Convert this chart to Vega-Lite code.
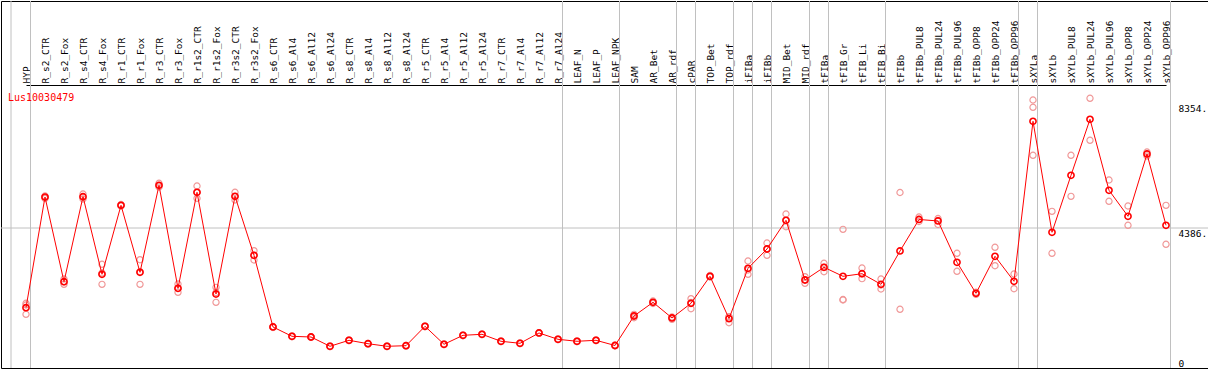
{
  "$schema": "https://vega.github.io/schema/vega-lite/v6.json",
  "width": 1207,
  "height": 367,
  "autosize": {"type": "none"},
  "padding": {"left": 1, "top": 1, "right": 0, "bottom": 1},
  "background": "white",
  "config": {"view": {"stroke": "black", "strokeWidth": 1}},
  "title": {"text": "Lus10030479", "anchor": "start", "frame": "group", "orient": "top", "offset": -110, "dx": 7, "color": "#ff0000", "font": "DejaVu Sans Mono", "fontSize": 10, "fontWeight": "normal", "baseline": "alphabetic"},
  "datasets": {
    "means": [
      {"sample": "HYP", "value": 1889}, {"sample": "R_s2_CTR", "value": 5357}, {"sample": "R_s2_Fox", "value": 2704},
      {"sample": "R_s4_CTR", "value": 5367}, {"sample": "R_s4_Fox", "value": 2936}, {"sample": "R_r1_CTR", "value": 5097},
      {"sample": "R_r1_Fox", "value": 2998}, {"sample": "R_r3_CTR", "value": 5724}, {"sample": "R_r3_Fox", "value": 2497},
      {"sample": "R_r1s2_CTR", "value": 5505}, {"sample": "R_r1s2_Fox", "value": 2318}, {"sample": "R_r3s2_CTR", "value": 5379},
      {"sample": "R_r3s2_Fox", "value": 3531}, {"sample": "R_s6_CTR", "value": 1285}, {"sample": "R_s6_Al4", "value": 993},
      {"sample": "R_s6_Al12", "value": 971}, {"sample": "R_s6_Al24", "value": 680}, {"sample": "R_s8_CTR", "value": 868},
      {"sample": "R_s8_Al4", "value": 761}, {"sample": "R_s8_Al12", "value": 680}, {"sample": "R_s8_Al24", "value": 699},
      {"sample": "R_r5_CTR", "value": 1306}, {"sample": "R_r5_Al4", "value": 743}, {"sample": "R_r5_Al12", "value": 1024},
      {"sample": "R_r5_Al24", "value": 1056}, {"sample": "R_r7_CTR", "value": 837}, {"sample": "R_r7_Al4", "value": 774},
      {"sample": "R_r7_Al12", "value": 1097}, {"sample": "R_r7_Al24", "value": 899}, {"sample": "LEAF_N", "value": 837},
      {"sample": "LEAF_P", "value": 868}, {"sample": "LEAF_NPK", "value": 705}, {"sample": "SAM", "value": 1629},
      {"sample": "AR_Bet", "value": 2058}, {"sample": "AR_rdf", "value": 1567}, {"sample": "cPAR", "value": 2027},
      {"sample": "TOP_Bet", "value": 2873}, {"sample": "TOP_rdf", "value": 1545}, {"sample": "iFIBa", "value": 3124},
      {"sample": "iFIBb", "value": 3728}, {"sample": "MID_Bet", "value": 4627}, {"sample": "MID_rdf", "value": 2757},
      {"sample": "tFIBa", "value": 3155}, {"sample": "tFIB_Gr", "value": 2873}, {"sample": "tFIB_Li", "value": 2954},
      {"sample": "tFIB_Bi", "value": 2622}, {"sample": "tFIBb", "value": 3666}, {"sample": "tFIBb_PUL8", "value": 4653},
      {"sample": "tFIBb_PUL24", "value": 4606}, {"sample": "tFIBb_PUL96", "value": 3312}, {"sample": "tFIBb_OPP8", "value": 2340},
      {"sample": "tFIBb_OPP24", "value": 3500}, {"sample": "tFIBb_OPP96", "value": 2716}, {"sample": "sXYLa", "value": 7729},
      {"sample": "sXYLb", "value": 4252}, {"sample": "sXYLb_PUL8", "value": 6037}, {"sample": "sXYLb_PUL24", "value": 7792},
      {"sample": "sXYLb_PUL96", "value": 5567}, {"sample": "sXYLb_OPP8", "value": 4753}, {"sample": "sXYLb_OPP24", "value": 6705},
      {"sample": "sXYLb_OPP96", "value": 4471}
    ],
    "reps": [
      {"sample": "HYP", "value": 2027}, {"sample": "HYP", "value": 1974}, {"sample": "HYP", "value": 1682},
      {"sample": "R_s2_CTR", "value": 5389}, {"sample": "R_s2_CTR", "value": 5357}, {"sample": "R_s2_CTR", "value": 5310},
      {"sample": "R_s2_Fox", "value": 2788}, {"sample": "R_s2_Fox", "value": 2694}, {"sample": "R_s2_Fox", "value": 2622},
      {"sample": "R_s4_CTR", "value": 5451}, {"sample": "R_s4_CTR", "value": 5357}, {"sample": "R_s4_CTR", "value": 5295},
      {"sample": "R_s4_Fox", "value": 3249}, {"sample": "R_s4_Fox", "value": 2976}, {"sample": "R_s4_Fox", "value": 2622},
      {"sample": "R_r1_CTR", "value": 5122}, {"sample": "R_r1_CTR", "value": 5097}, {"sample": "R_r1_CTR", "value": 5075},
      {"sample": "R_r1_Fox", "value": 3393}, {"sample": "R_r1_Fox", "value": 3017}, {"sample": "R_r1_Fox", "value": 2622},
      {"sample": "R_r3_CTR", "value": 5787}, {"sample": "R_r3_CTR", "value": 5718}, {"sample": "R_r3_CTR", "value": 5671},
      {"sample": "R_r3_Fox", "value": 2632}, {"sample": "R_r3_Fox", "value": 2491}, {"sample": "R_r3_Fox", "value": 2372},
      {"sample": "R_r1s2_CTR", "value": 5702}, {"sample": "R_r1s2_CTR", "value": 5498}, {"sample": "R_r1s2_CTR", "value": 5317},
      {"sample": "R_r1s2_Fox", "value": 2528}, {"sample": "R_r1s2_Fox", "value": 2365}, {"sample": "R_r1s2_Fox", "value": 2058},
      {"sample": "R_r3s2_CTR", "value": 5505}, {"sample": "R_r3s2_CTR", "value": 5373}, {"sample": "R_r3s2_CTR", "value": 5263},
      {"sample": "R_r3s2_Fox", "value": 3675}, {"sample": "R_r3s2_Fox", "value": 3531}, {"sample": "R_r3s2_Fox", "value": 3384},
      {"sample": "R_s6_CTR", "value": 1300}, {"sample": "R_s6_CTR", "value": 1285}, {"sample": "R_s6_CTR", "value": 1270},
      {"sample": "R_s6_Al4", "value": 1005}, {"sample": "R_s6_Al4", "value": 993}, {"sample": "R_s6_Al4", "value": 980},
      {"sample": "R_s6_Al12", "value": 985}, {"sample": "R_s6_Al12", "value": 971}, {"sample": "R_s6_Al12", "value": 958},
      {"sample": "R_s6_Al24", "value": 690}, {"sample": "R_s6_Al24", "value": 680}, {"sample": "R_s6_Al24", "value": 670},
      {"sample": "R_s8_CTR", "value": 880}, {"sample": "R_s8_CTR", "value": 868}, {"sample": "R_s8_CTR", "value": 856},
      {"sample": "R_s8_Al4", "value": 772}, {"sample": "R_s8_Al4", "value": 761}, {"sample": "R_s8_Al4", "value": 750},
      {"sample": "R_s8_Al12", "value": 690}, {"sample": "R_s8_Al12", "value": 680}, {"sample": "R_s8_Al12", "value": 670},
      {"sample": "R_s8_Al24", "value": 710}, {"sample": "R_s8_Al24", "value": 699}, {"sample": "R_s8_Al24", "value": 688},
      {"sample": "R_r5_CTR", "value": 1320}, {"sample": "R_r5_CTR", "value": 1306}, {"sample": "R_r5_CTR", "value": 1292},
      {"sample": "R_r5_Al4", "value": 755}, {"sample": "R_r5_Al4", "value": 743}, {"sample": "R_r5_Al4", "value": 731},
      {"sample": "R_r5_Al12", "value": 1036}, {"sample": "R_r5_Al12", "value": 1024}, {"sample": "R_r5_Al12", "value": 1012},
      {"sample": "R_r5_Al24", "value": 1068}, {"sample": "R_r5_Al24", "value": 1056}, {"sample": "R_r5_Al24", "value": 1044},
      {"sample": "R_r7_CTR", "value": 849}, {"sample": "R_r7_CTR", "value": 837}, {"sample": "R_r7_CTR", "value": 825},
      {"sample": "R_r7_Al4", "value": 786}, {"sample": "R_r7_Al4", "value": 774}, {"sample": "R_r7_Al4", "value": 762},
      {"sample": "R_r7_Al12", "value": 1110}, {"sample": "R_r7_Al12", "value": 1097}, {"sample": "R_r7_Al12", "value": 1084},
      {"sample": "R_r7_Al24", "value": 911}, {"sample": "R_r7_Al24", "value": 899}, {"sample": "R_r7_Al24", "value": 887},
      {"sample": "LEAF_N", "value": 849}, {"sample": "LEAF_N", "value": 837}, {"sample": "LEAF_N", "value": 825},
      {"sample": "LEAF_P", "value": 880}, {"sample": "LEAF_P", "value": 868}, {"sample": "LEAF_P", "value": 856},
      {"sample": "LEAF_NPK", "value": 717}, {"sample": "LEAF_NPK", "value": 705}, {"sample": "LEAF_NPK", "value": 693},
      {"sample": "SAM", "value": 1682}, {"sample": "SAM", "value": 1629}, {"sample": "SAM", "value": 1576},
      {"sample": "AR_Bet", "value": 2099}, {"sample": "AR_Bet", "value": 2058}, {"sample": "AR_Bet", "value": 2021},
      {"sample": "AR_rdf", "value": 1598}, {"sample": "AR_rdf", "value": 1567}, {"sample": "AR_rdf", "value": 1526},
      {"sample": "cPAR", "value": 2171}, {"sample": "cPAR", "value": 2052}, {"sample": "cPAR", "value": 1858},
      {"sample": "TOP_Bet", "value": 2898}, {"sample": "TOP_Bet", "value": 2873}, {"sample": "TOP_Bet", "value": 2851},
      {"sample": "TOP_rdf", "value": 1607}, {"sample": "TOP_rdf", "value": 1600}, {"sample": "TOP_rdf", "value": 1419},
      {"sample": "iFIBa", "value": 3352}, {"sample": "iFIBa", "value": 3071}, {"sample": "iFIBa", "value": 2936},
      {"sample": "iFIBb", "value": 3916}, {"sample": "iFIBb", "value": 3728}, {"sample": "iFIBb", "value": 3531},
      {"sample": "MID_Bet", "value": 4825}, {"sample": "MID_Bet", "value": 4627}, {"sample": "MID_Bet", "value": 4427},
      {"sample": "MID_rdf", "value": 2860}, {"sample": "MID_rdf", "value": 2757}, {"sample": "MID_rdf", "value": 2654},
      {"sample": "tFIBa", "value": 3280}, {"sample": "tFIBa", "value": 3155}, {"sample": "tFIBa", "value": 3017},
      {"sample": "tFIB_Gr", "value": 4345}, {"sample": "tFIB_Gr", "value": 2146}, {"sample": "tFIB_Gr", "value": 2130},
      {"sample": "tFIB_Li", "value": 3133}, {"sample": "tFIB_Li", "value": 2945}, {"sample": "tFIB_Li", "value": 2798},
      {"sample": "tFIB_Bi", "value": 2788}, {"sample": "tFIB_Bi", "value": 2600}, {"sample": "tFIB_Bi", "value": 2475},
      {"sample": "tFIBb", "value": 5498}, {"sample": "tFIBb", "value": 1839},
      {"sample": "tFIBb_PUL8", "value": 4731}, {"sample": "tFIBb_PUL8", "value": 4653}, {"sample": "tFIBb_PUL8", "value": 4590},
      {"sample": "tFIBb_PUL24", "value": 4684}, {"sample": "tFIBb_PUL24", "value": 4621}, {"sample": "tFIBb_PUL24", "value": 4496},
      {"sample": "tFIBb_PUL96", "value": 3594}, {"sample": "tFIBb_PUL96", "value": 3030},
      {"sample": "tFIBb_OPP8", "value": 2372}, {"sample": "tFIBb_OPP8", "value": 2340}, {"sample": "tFIBb_OPP8", "value": 2309},
      {"sample": "tFIBb_OPP24", "value": 3782}, {"sample": "tFIBb_OPP24", "value": 3205},
      {"sample": "tFIBb_OPP96", "value": 2945}, {"sample": "tFIBb_OPP96", "value": 2484},
      {"sample": "sXYLa", "value": 8396}, {"sample": "sXYLa", "value": 8168}, {"sample": "sXYLa", "value": 6664},
      {"sample": "sXYLb", "value": 4909}, {"sample": "sXYLb", "value": 3594},
      {"sample": "sXYLb_PUL8", "value": 6664}, {"sample": "sXYLb_PUL8", "value": 5379},
      {"sample": "sXYLb_PUL24", "value": 8450}, {"sample": "sXYLb_PUL24", "value": 7134},
      {"sample": "sXYLb_PUL96", "value": 5890}, {"sample": "sXYLb_PUL96", "value": 5223},
      {"sample": "sXYLb_OPP8", "value": 5075}, {"sample": "sXYLb_OPP8", "value": 4471},
      {"sample": "sXYLb_OPP24", "value": 6767}, {"sample": "sXYLb_OPP24", "value": 6642},
      {"sample": "sXYLb_OPP96", "value": 5097}, {"sample": "sXYLb_OPP96", "value": 3876}
    ],
    "seps": [
      {"sample": "HYP"}, {"sample": "R_r7_Al24"}, {"sample": "LEAF_NPK"}, {"sample": "AR_rdf"}, {"sample": "cPAR"},
      {"sample": "TOP_rdf"}, {"sample": "iFIBa"}, {"sample": "iFIBb"}, {"sample": "MID_rdf"}, {"sample": "tFIBa"},
      {"sample": "tFIB_Bi"}, {"sample": "tFIBb_OPP96"}, {"sample": "sXYLa"}, {"sample": "sXYLb_OPP96"}
    ],
    "first": [{"sample": "HYP"}]
  },
  "layer": [
    {
      "data": {"name": "seps"},
      "mark": {"type": "rule", "color": "#c0c0c0", "strokeWidth": 1, "xOffset": 4.5},
      "encoding": {
        "x": {"field": "sample", "type": "nominal", "sort": null,
          "scale": {"type": "point", "padding": 0, "range": [25, 1165], "domain": ["HYP","R_s2_CTR","R_s2_Fox","R_s4_CTR","R_s4_Fox","R_r1_CTR","R_r1_Fox","R_r3_CTR","R_r3_Fox","R_r1s2_CTR","R_r1s2_Fox","R_r3s2_CTR","R_r3s2_Fox","R_s6_CTR","R_s6_Al4","R_s6_Al12","R_s6_Al24","R_s8_CTR","R_s8_Al4","R_s8_Al12","R_s8_Al24","R_r5_CTR","R_r5_Al4","R_r5_Al12","R_r5_Al24","R_r7_CTR","R_r7_Al4","R_r7_Al12","R_r7_Al24","LEAF_N","LEAF_P","LEAF_NPK","SAM","AR_Bet","AR_rdf","cPAR","TOP_Bet","TOP_rdf","iFIBa","iFIBb","MID_Bet","MID_rdf","tFIBa","tFIB_Gr","tFIB_Li","tFIB_Bi","tFIBb","tFIBb_PUL8","tFIBb_PUL24","tFIBb_PUL96","tFIBb_OPP8","tFIBb_OPP24","tFIBb_OPP96","sXYLa","sXYLb","sXYLb_PUL8","sXYLb_PUL24","sXYLb_PUL96","sXYLb_OPP8","sXYLb_OPP24","sXYLb_OPP96"]},
          "axis": {"orient": "top", "offset": -84, "title": null, "labelAngle": 270, "labelAlign": "left", "labelBaseline": "middle", "labelPadding": 2, "ticks": false, "tickSize": 0, "domain": true, "domainColor": "black", "domainWidth": 1, "grid": false, "labelFont": "DejaVu Sans Mono", "labelFontSize": 9.5, "labelColor": "black", "labelOverlap": false, "labelBound": false, "labelFlush": false, "labelLimit": 0}}
      }
    },
    {
      "data": {"name": "first"},
      "mark": {"type": "rule", "color": "#c0c0c0", "strokeWidth": 1, "xOffset": -15},
      "encoding": {
        "x": {"field": "sample", "type": "nominal", "sort": null}
      }
    },
    {
      "data": {"name": "first"},
      "mark": {"type": "rule", "color": "#c0c0c0", "strokeWidth": 1},
      "encoding": {
        "y": {"datum": 4386, "type": "quantitative",
          "scale": {"domain": [0, 11498], "nice": false, "zero": true},
          "axis": {"orient": "right", "offset": -30, "title": null, "values": [0, 4386, 8354], "labelExpr": "datum.value == 0 ? '0' : datum.value + '.'", "labelAlign": "left", "labelBaseline": {"condition": {"test": "datum.value == 0", "value": "bottom"}, "value": "top"}, "labelOffset": {"condition": {"test": "datum.value == 8354", "value": 2}, "value": 0}, "labelPadding": 0, "ticks": false, "tickSize": 0, "domain": false, "grid": false, "labelFont": "DejaVu Sans Mono", "labelFontSize": 9.5, "labelColor": "black", "labelFlush": false, "labelOverlap": false}}
      }
    },
    {
      "data": {"name": "reps"},
      "mark": {"type": "point", "shape": "circle", "filled": false, "color": "#f09898", "strokeWidth": 1.2, "size": 38, "opacity": 1},
      "encoding": {
        "x": {"field": "sample", "type": "nominal", "sort": null},
        "y": {"field": "value", "type": "quantitative"}
      }
    },
    {
      "data": {"name": "means"},
      "mark": {"type": "line", "color": "#ff0000", "strokeWidth": 1},
      "encoding": {
        "x": {"field": "sample", "type": "nominal", "sort": null},
        "y": {"field": "value", "type": "quantitative"}
      }
    },
    {
      "data": {"name": "means"},
      "mark": {"type": "point", "shape": "circle", "filled": false, "color": "#ff0000", "strokeWidth": 1.6, "size": 38, "opacity": 1},
      "encoding": {
        "x": {"field": "sample", "type": "nominal", "sort": null},
        "y": {"field": "value", "type": "quantitative"}
      }
    }
  ]
}
